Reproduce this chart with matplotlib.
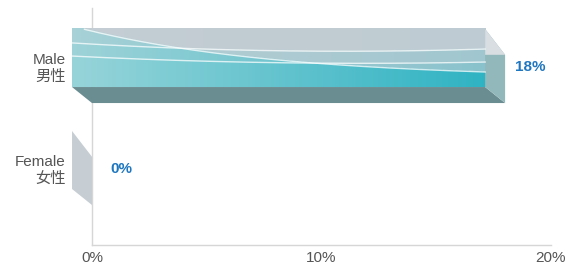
import numpy as np
import matplotlib

matplotlib.use("Agg")
import matplotlib.pyplot as plt
from matplotlib.patches import Polygon
from matplotlib.colors import to_rgb

# data
categories = ["Male\n男性", "Female\n女性"]
values = [18, 0]
value_labels = ["18%", "0%"]
x_ticks = [0, 10, 20]
x_tick_labels = ["0%", "10%", "20%"]

plt.rcParams["font.family"] = ["Liberation Sans", "Noto Sans CJK SC", "DejaVu Sans"]

W, H = 574, 270
fig = plt.figure(figsize=(W / 100, H / 100), dpi=100)
ax = fig.add_axes([92 / W, 25 / H, 459 / W, 237 / H])
ax.set_xlim(0, 20)
ax.set_ylim(1.755, -0.569)

# 3d box geometry (x offset in %, y offsets in category units)
DX = 0.87
FRONT_TOP, FRONT_BOT = -0.363, 0.206
BACK_TOP, BACK_BOT = -0.11, 0.363

GRAY = np.array(to_rgb("#c6cdd3"))
TEAL_L = np.array(to_rgb("#97d4d9"))
TEAL_R = np.array(to_rgb("#2fb3c3"))


def curve_a(t):
    tau = 0.48
    s = (1 - np.exp(-(t - 0.027) / tau)) / (1 - np.exp(-0.973 / tau))
    return 0.741 * s


def curve_b(t):
    return -0.330 * t ** 2 + 0.435 * t + 0.24


def curve_c(t):
    return -0.254 * t ** 2 + 0.357 * t + 0.466


def add_poly(ax, pts, color):
    ax.add_patch(Polygon(pts, closed=True, fc=color, ec="none",
                         zorder=3, clip_on=False))


def front_face(ax, x0, x1, top, bot):
    t = np.linspace(0, 1, 500)[None, :]
    s = np.linspace(0, 1, 120)[:, None]
    base = TEAL_L + (TEAL_R - TEAL_L) * t[..., None]
    w = (0.2 * (s < curve_b(t)) + 0.15 * (s < curve_c(t))
         + 0.6 * (s < curve_a(t))).astype(float)
    img = base * (1 - w[..., None]) + GRAY * w[..., None]
    ax.imshow(img, extent=[x0, x1, bot, top], origin="upper",
              aspect="auto", interpolation="bilinear", zorder=3,
              clip_on=False)
    tt = np.linspace(0, 1, 200)
    for fn, start in ((curve_a, 0.03), (curve_b, 0.0), (curve_c, 0.0)):
        m = tt >= start
        ys = top + np.clip(fn(tt[m]), 0, 1) * (bot - top)
        ax.plot(x0 + tt[m] * (x1 - x0), ys, color="white", lw=1,
                alpha=0.75, zorder=4, clip_on=False)


for i, (val, lab) in enumerate(zip(values, value_labels)):
    fx0, fx1 = -DX, val - DX
    ft, fb = i + FRONT_TOP, i + FRONT_BOT
    bt, bb = i + BACK_TOP, i + BACK_BOT
    if val > 0:
        # bottom face
        add_poly(ax, [(fx0, fb), (fx1, fb), (val, bb), (0, bb)], "#6a8d92")
        front_face(ax, fx0, fx1, ft, fb)
        # end cap
        add_poly(ax, [(fx1, ft), (val, bt), (val, bb), (fx1, fb)], "#93b8bb")
        add_poly(ax, [(fx1, ft), (val, bt), (fx1, bt)], "#d9dee3")
        tx = val + 0.45
    else:
        add_poly(ax, [(fx1, ft), (val, bt), (val, bb), (fx1, fb)], "#c6ced4")
        tx = 0.78
    ax.text(tx, i + 0.01, lab, color="#1f77c0", fontsize=11,
            fontweight="bold", ha="left", va="center", zorder=5)

ax.set_yticks(range(len(categories)))
ax.set_yticklabels(categories, fontsize=11, color="#555555")
ax.set_xticks(x_ticks)
ax.set_xticklabels(x_tick_labels, fontsize=11, color="#555555")
ax.tick_params(axis="y", length=0, pad=19)
ax.tick_params(axis="x", length=0, pad=4.5)
for side in ("top", "right"):
    ax.spines[side].set_visible(False)
for side in ("left", "bottom"):
    ax.spines[side].set_color("#d6d6d6")
    ax.spines[side].set_linewidth(1)
ax.set_facecolor("none")

fig.savefig("out.png", dpi=100)
